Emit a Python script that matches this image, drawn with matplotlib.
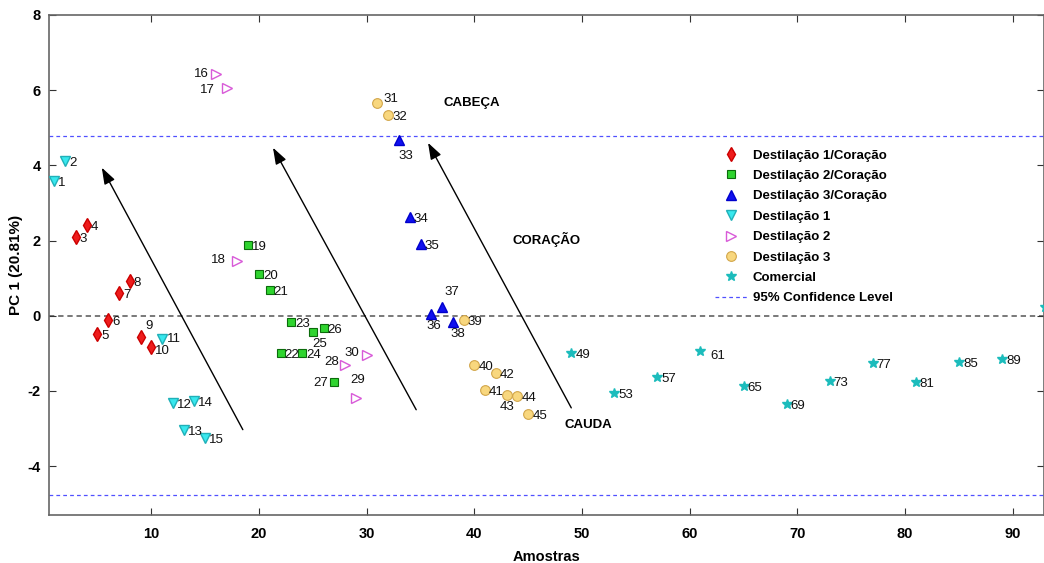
import numpy as np
import matplotlib
matplotlib.use("Agg")
import matplotlib.pyplot as plt
from matplotlib.lines import Line2D

plt.rcParams['font.family'] = ['Liberation Sans', 'DejaVu Sans']
plt.rcParams['axes.unicode_minus'] = False

# sample numbers and PC1 scores per group
d1c_x = [3, 4, 5, 6, 7, 8, 9, 10]
d1c_y = [2.10, 2.42, -0.48, -0.10, 0.61, 0.93, -0.56, -0.82]
d2c_x = [19, 20, 21, 22, 23, 24, 25, 26, 27]
d2c_y = [1.89, 1.12, 0.69, -0.98, -0.16, -0.98, -0.43, -0.32, -1.76]
d3c_x = [33, 34, 35, 36, 37, 38]
d3c_y = [4.68, 2.63, 1.91, 0.05, 0.24, -0.16]
d1_x = [1, 2, 11, 12, 13, 14, 15]
d1_y = [3.59, 4.12, -0.61, -2.31, -3.03, -2.26, -3.24]
d2_x = [16, 17, 18, 28, 29, 30]
d2_y = [6.44, 6.06, 1.46, -1.30, -2.18, -1.04]
d3_x = [31, 32, 39, 40, 41, 42, 43, 44, 45]
d3_y = [5.66, 5.35, -0.10, -1.30, -1.97, -1.52, -2.10, -2.13, -2.61]
com_x = [49, 53, 57, 61, 65, 69, 73, 77, 81, 85, 89, 93]
com_y = [-0.98, -2.05, -1.62, -0.93, -1.86, -2.34, -1.73, -1.25, -1.76, -1.22, -1.14, 0.24]

conf_limit = 4.77

groups = [
    ("Destilação 1/Coração", d1c_x, d1c_y, dict(marker='d', ms=7, mfc='#ee1c1c', mec='#cc0000')),
    ("Destilação 2/Coração", d2c_x, d2c_y, dict(marker='s', ms=5.5, mfc='#2fd42f', mec='#0b6b0b', mew=0.8)),
    ("Destilação 3/Coração", d3c_x, d3c_y, dict(marker='^', ms=7, mfc='#1010f0', mec='#0000cc')),
    ("Destilação 1", d1_x, d1_y, dict(marker='v', ms=7, mfc='#38e8ee', mec='#20b0b8')),
    ("Destilação 2", d2_x, d2_y, dict(marker='>', ms=7, mfc='none', mec='#d85ad8', mew=1.0)),
    ("Destilação 3", d3_x, d3_y, dict(marker='o', ms=7, mfc='#f8d77e', mec='#d2a64a', mew=0.8)),
    ("Comercial", com_x, com_y, dict(marker='*', ms=7.5, mfc='#1cbcbc', mec='#1cbcbc')),
]

# label placement (pixel offsets) for crowded points
special = {
    9: (5, 11, 'left'), 10: (4, -4, 'left'), 11: (5, 0, 'left'),
    16: (-7, 0, 'right'), 17: (-12, -2, 'right'),
    18: (-12, 1, 'right'), 25: (7, -12, 'center'), 27: (-6, -1, 'right'),
    28: (-6, 3, 'right'), 29: (2, 18, 'center'), 30: (-7, 2, 'right'),
    31: (6, 4, 'left'), 33: (7, -16, 'center'), 36: (3, -12, 'center'),
    37: (10, 15, 'center'), 38: (5, -12, 'center'), 43: (0, -12, 'center'),
    61: (10, -5, 'left'), 93: (-7, 1, 'right'),
}

fig = plt.figure(figsize=(10.44, 5.63), dpi=100)
ax = fig.add_axes([49 / 1044, 1 - 515 / 563, 995 / 1044, 500 / 563])

ax.axhline(0, color='#555555', ls=(0, (3.5, 2.5)), lw=1.1, zorder=1)
ax.axhline(conf_limit, color='#5050ff', ls=(0, (3, 2.5)), lw=0.9, zorder=1)
ax.axhline(-conf_limit, color='#5050ff', ls=(0, (3, 2.5)), lw=0.9, zorder=1)

handles = []
for name, xs, ys, st in groups:
    ax.plot(xs, ys, ls='none', clip_on=False, zorder=3, **st)
    handles.append(Line2D([], [], ls='none', label=name, **st))
    for x, y in zip(xs, ys):
        dx, dy, ha = special.get(x, (4, -2, 'left'))
        ax.annotate(str(x), (x, y), xytext=(dx, dy), textcoords='offset pixels',
                    ha=ha, va='center', fontsize=9.5, color='#111111', zorder=4)
handles.append(Line2D([], [], color='#5050ff', ls=(0, (3, 2.5)), lw=0.9,
                      label='95% Confidence Level'))

# trend arrows
arrows = [((18.5, -3.03), (5.4, 3.94)),
          ((34.6, -2.5), (21.3, 4.47)),
          ((49.0, -2.45), (35.7, 4.6))]
for start, end in arrows:
    ax.annotate('', xy=end, xytext=start,
                arrowprops=dict(arrowstyle='-|>,head_length=1.0,head_width=0.35',
                                color='black', lw=1.0, shrinkA=0, shrinkB=0))

ax.text(39.8, 5.66, 'CABEÇA', fontsize=9.5, fontweight='bold', ha='center', va='center')
ax.text(46.7, 2.02, 'CORAÇÃO', fontsize=9.5, fontweight='bold', ha='center', va='center')
ax.text(50.6, -2.9, 'CAUDA', fontsize=9.5, fontweight='bold', ha='center', va='center')

ax.set_xlim(0.5, 92.9)
ax.set_ylim(-5.3, 8)
ax.set_xticks(range(10, 91, 10))
ax.set_yticks(range(-4, 9, 2))
ax.tick_params(direction='in', top=True, right=True, length=5, width=0.8,
               color='#333333', labelsize=10.5)
ax.tick_params(axis='y', pad=6)
ax.tick_params(axis='x', pad=9)
for lab in ax.get_xticklabels() + ax.get_yticklabels():
    lab.set_fontweight('bold')
for sp in ax.spines.values():
    sp.set_color('#666666')
    sp.set_linewidth(1.2)

ax.set_xlabel('Amostras', fontsize=10.5, fontweight='bold', labelpad=6)
ax.set_ylabel('PC 1 (20.81%)', fontsize=11, fontweight='bold', labelpad=3)

ax.legend(handles=handles, loc='upper left', bbox_to_anchor=(661 / 995, 371 / 500),
          frameon=False, prop=dict(weight='bold', size=9.5), labelspacing=0.62,
          handlelength=2.4, handletextpad=0.45, borderaxespad=0)

fig.savefig('out.png', dpi=100)
